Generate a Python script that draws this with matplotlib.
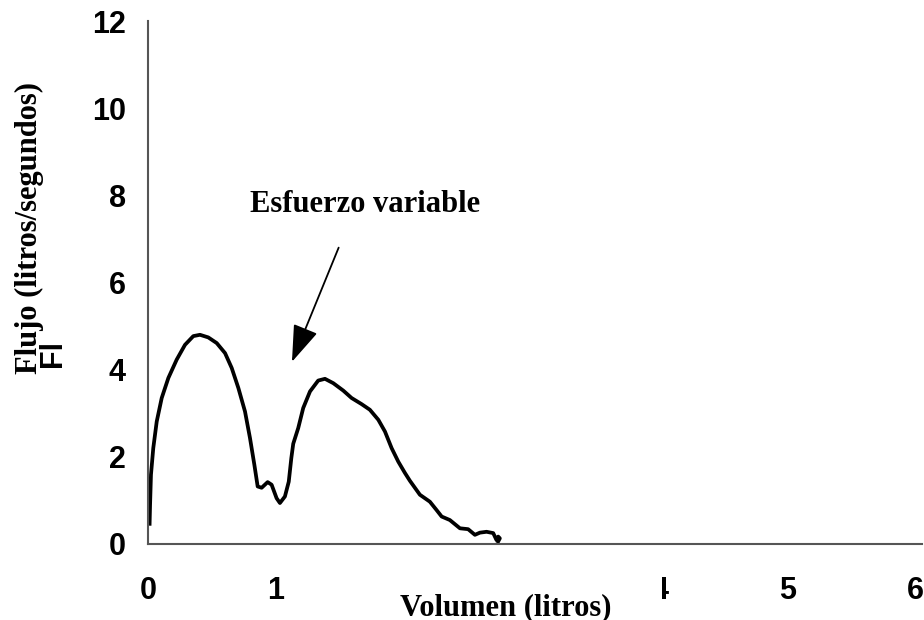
import matplotlib
matplotlib.use("Agg")
import matplotlib.pyplot as plt
from matplotlib.patches import Rectangle

# flow-volume curve
volumen = [0.012, 0.016, 0.023, 0.041, 0.068, 0.107, 0.159, 0.224, 0.289, 0.354,
           0.406, 0.471, 0.537, 0.602, 0.654, 0.706, 0.758, 0.797, 0.831, 0.857,
           0.888, 0.935, 0.966, 1.005, 1.031, 1.070, 1.100, 1.120, 1.135, 1.174,
           1.213, 1.266, 1.330, 1.383, 1.448, 1.526, 1.591, 1.669, 1.734, 1.800,
           1.852, 1.904, 1.956, 2.008, 2.047, 2.125, 2.203, 2.255, 2.295, 2.359,
           2.438, 2.502, 2.555, 2.594, 2.646, 2.698, 2.724, 2.737, 2.750, 2.730]
flujo = [0.42, 0.90, 1.59, 2.20, 2.81, 3.35, 3.81, 4.23, 4.57, 4.77,
         4.80, 4.74, 4.61, 4.38, 4.04, 3.58, 3.04, 2.43, 1.82, 1.32,
         1.29, 1.42, 1.36, 1.05, 0.94, 1.09, 1.43, 1.97, 2.30, 2.66,
         3.12, 3.50, 3.75, 3.79, 3.69, 3.52, 3.35, 3.21, 3.08, 2.85,
         2.58, 2.20, 1.89, 1.63, 1.45, 1.13, 0.97, 0.78, 0.63, 0.55,
         0.36, 0.34, 0.21, 0.26, 0.28, 0.25, 0.09, 0.17, 0.13, 0.02]

xticks = [0, 1, 2, 3, 4, 5, 6]
yticks = [0, 2, 4, 6, 8, 10, 12]

serif = "Liberation Serif"
sans = "Liberation Sans"

fig = plt.figure(figsize=(9.24, 6.2), dpi=100)
ax = fig.add_axes([0.1602, 0.1226, 0.8377, 0.8435])

ax.plot(volumen, flujo, color="black", lw=2.7,
        solid_joinstyle="round", solid_capstyle="butt")

ax.set_xlim(0, 6.05)
ax.set_ylim(0, 12)
ax.set_xticks(xticks)
ax.set_yticks(yticks)
ax.set_xticklabels([str(t) for t in xticks], fontfamily=sans, fontweight="bold", fontsize=22)
ax.set_yticklabels([str(t) for t in yticks], fontfamily=sans, fontweight="bold", fontsize=22)
ax.tick_params(axis="x", length=0, pad=23)
ax.tick_params(axis="y", length=0, pad=16)

for s in ["top", "right"]:
    ax.spines[s].set_visible(False)
for s in ["left", "bottom"]:
    ax.spines[s].set_color("#555555")
    ax.spines[s].set_linewidth(1.5)

# annotation
ax.text(1.70, 7.61, "Esfuerzo variable", ha="center", va="baseline",
        fontfamily=serif, fontweight="bold", fontsize=22)
ax.annotate("", xy=(1.125, 4.18), xytext=(1.49, 6.80),
            arrowprops=dict(arrowstyle="-|>,head_length=2.3,head_width=0.8",
                            color="black", lw=1.3, shrinkA=0, shrinkB=0))

# white box behind the x label hides ticks 2, 3 and most of 4
fig.add_artist(Rectangle((381 / 924, 0), 281 / 924, 55 / 620,
                         transform=fig.transFigure, facecolor="white",
                         edgecolor="none", zorder=3))
fig.text(506 / 924, 5 / 620, "Volumen (litros)", ha="center", va="baseline",
         fontfamily=serif, fontweight="bold", fontsize=22, zorder=4)

# y label, plus the leftover "Fl" of a hidden label
fig.text(29 / 924, (620 - 228) / 620, "Flujo (litros/segundos)", rotation=90,
         ha="center", va="center", fontfamily=serif, fontweight="bold", fontsize=22)
fig.text(53 / 924, (620 - 367) / 620, "Fl", rotation=90, ha="center", va="bottom",
         fontfamily=sans, fontweight="bold", fontsize=22)

fig.savefig("out.png", dpi=100)
